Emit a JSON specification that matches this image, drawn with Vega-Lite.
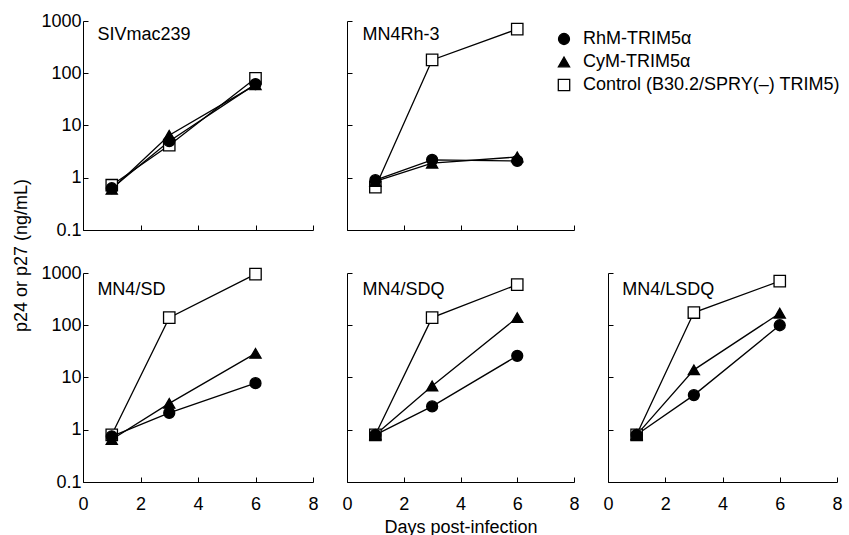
{
  "$schema": "https://vega.github.io/schema/vega-lite/v6.json",
  "padding": {"left": 11, "top": 12, "right": 5, "bottom": 2},
  "background": "white",
  "datasets": {
    "d": [
      {"panel": "SIVmac239", "series": "Control (B30.2/SPRY(–) TRIM5)", "day": 1, "value": 0.72},
      {"panel": "SIVmac239", "series": "Control (B30.2/SPRY(–) TRIM5)", "day": 3, "value": 4.2},
      {"panel": "SIVmac239", "series": "Control (B30.2/SPRY(–) TRIM5)", "day": 6, "value": 80},
      {"panel": "SIVmac239", "series": "CyM-TRIM5α", "day": 1, "value": 0.6},
      {"panel": "SIVmac239", "series": "CyM-TRIM5α", "day": 3, "value": 6.5},
      {"panel": "SIVmac239", "series": "CyM-TRIM5α", "day": 6, "value": 60},
      {"panel": "SIVmac239", "series": "RhM-TRIM5α", "day": 1, "value": 0.63},
      {"panel": "SIVmac239", "series": "RhM-TRIM5α", "day": 3, "value": 5.0},
      {"panel": "SIVmac239", "series": "RhM-TRIM5α", "day": 6, "value": 62},
      {"panel": "MN4Rh-3", "series": "Control (B30.2/SPRY(–) TRIM5)", "day": 1, "value": 0.66},
      {"panel": "MN4Rh-3", "series": "Control (B30.2/SPRY(–) TRIM5)", "day": 3, "value": 180},
      {"panel": "MN4Rh-3", "series": "Control (B30.2/SPRY(–) TRIM5)", "day": 6, "value": 700},
      {"panel": "MN4Rh-3", "series": "CyM-TRIM5α", "day": 1, "value": 0.85},
      {"panel": "MN4Rh-3", "series": "CyM-TRIM5α", "day": 3, "value": 1.9},
      {"panel": "MN4Rh-3", "series": "CyM-TRIM5α", "day": 6, "value": 2.5},
      {"panel": "MN4Rh-3", "series": "RhM-TRIM5α", "day": 1, "value": 0.9},
      {"panel": "MN4Rh-3", "series": "RhM-TRIM5α", "day": 3, "value": 2.2},
      {"panel": "MN4Rh-3", "series": "RhM-TRIM5α", "day": 6, "value": 2.1},
      {"panel": "MN4/SD", "series": "Control (B30.2/SPRY(–) TRIM5)", "day": 1, "value": 0.8},
      {"panel": "MN4/SD", "series": "Control (B30.2/SPRY(–) TRIM5)", "day": 3, "value": 140},
      {"panel": "MN4/SD", "series": "Control (B30.2/SPRY(–) TRIM5)", "day": 6, "value": 950},
      {"panel": "MN4/SD", "series": "CyM-TRIM5α", "day": 1, "value": 0.65},
      {"panel": "MN4/SD", "series": "CyM-TRIM5α", "day": 3, "value": 3.2},
      {"panel": "MN4/SD", "series": "CyM-TRIM5α", "day": 6, "value": 29},
      {"panel": "MN4/SD", "series": "RhM-TRIM5α", "day": 1, "value": 0.75},
      {"panel": "MN4/SD", "series": "RhM-TRIM5α", "day": 3, "value": 2.1},
      {"panel": "MN4/SD", "series": "RhM-TRIM5α", "day": 6, "value": 7.8},
      {"panel": "MN4/SDQ", "series": "Control (B30.2/SPRY(–) TRIM5)", "day": 1, "value": 0.8},
      {"panel": "MN4/SDQ", "series": "Control (B30.2/SPRY(–) TRIM5)", "day": 3, "value": 140},
      {"panel": "MN4/SDQ", "series": "Control (B30.2/SPRY(–) TRIM5)", "day": 6, "value": 600},
      {"panel": "MN4/SDQ", "series": "CyM-TRIM5α", "day": 1, "value": 0.8},
      {"panel": "MN4/SDQ", "series": "CyM-TRIM5α", "day": 3, "value": 6.9},
      {"panel": "MN4/SDQ", "series": "CyM-TRIM5α", "day": 6, "value": 140},
      {"panel": "MN4/SDQ", "series": "RhM-TRIM5α", "day": 1, "value": 0.8},
      {"panel": "MN4/SDQ", "series": "RhM-TRIM5α", "day": 3, "value": 2.8},
      {"panel": "MN4/SDQ", "series": "RhM-TRIM5α", "day": 6, "value": 26},
      {"panel": "MN4/LSDQ", "series": "Control (B30.2/SPRY(–) TRIM5)", "day": 1, "value": 0.8},
      {"panel": "MN4/LSDQ", "series": "Control (B30.2/SPRY(–) TRIM5)", "day": 3, "value": 175},
      {"panel": "MN4/LSDQ", "series": "Control (B30.2/SPRY(–) TRIM5)", "day": 6, "value": 700},
      {"panel": "MN4/LSDQ", "series": "CyM-TRIM5α", "day": 1, "value": 0.8},
      {"panel": "MN4/LSDQ", "series": "CyM-TRIM5α", "day": 3, "value": 14},
      {"panel": "MN4/LSDQ", "series": "CyM-TRIM5α", "day": 6, "value": 170},
      {"panel": "MN4/LSDQ", "series": "RhM-TRIM5α", "day": 1, "value": 0.8},
      {"panel": "MN4/LSDQ", "series": "RhM-TRIM5α", "day": 3, "value": 4.6},
      {"panel": "MN4/LSDQ", "series": "RhM-TRIM5α", "day": 6, "value": 100}
    ]
  },
  "config": {
    "view": {"stroke": null},
    "font": "Liberation Sans",
    "axis": {"grid": false, "domainColor": "black", "tickColor": "black", "labelColor": "black", "titleColor": "black", "labelFontSize": 18, "titleFontSize": 18, "titleFontWeight": "normal", "labelFont": "Liberation Sans", "titleFont": "Liberation Sans", "tickSize": -5, "domainWidth": 1, "labelFlush": false},
    "legend": {"labelLimit": 400}
  },
  "resolve": {"scale": {"shape": "shared", "fill": "shared", "size": "shared"}},
  "bounds": "flush",
  "columns": 3,
  "spacing": {"row": 43, "column": 34},
  "concat": [
    {
      "width": 230, "height": 209,
      "layer": [
        {"data": {"name": "d"}, "transform": [{"filter": "datum.panel === 'SIVmac239'"}],
         "mark": {"type": "line", "color": "black", "strokeWidth": 1.3},
         "encoding": {
           "x": {"field": "day", "type": "quantitative", "scale": {"domain": [0, 8], "nice": false}, "axis": {"values": [0, 2, 4, 6, 8], "labels": false, "title": null}},
           "y": {"field": "value", "type": "quantitative", "scale": {"type": "log", "domain": [0.1, 1000], "nice": false}, "axis": {"values": [0.1, 1, 10, 100, 1000], "format": "~g", "title": null, "labelPadding": 7}},
           "detail": {"field": "series"}}},
        {"data": {"name": "d"}, "transform": [{"filter": "datum.panel === 'SIVmac239'"}],
         "mark": {"type": "point", "filled": true, "stroke": "black", "strokeWidth": 1.3, "opacity": 1},
         "encoding": {
           "x": {"field": "day", "type": "quantitative"},
           "y": {"field": "value", "type": "quantitative"},
           "shape": {"field": "series", "type": "nominal", "scale": {"domain": ["RhM-TRIM5α", "CyM-TRIM5α", "Control (B30.2/SPRY(–) TRIM5)"], "range": ["circle", "triangle-up", "square"]},
             "legend": {"title": null, "orient": "none", "legendX": 472, "legendY": 9, "labelFontSize": 18, "labelFont": "Liberation Sans", "labelColor": "black", "rowPadding": 5, "symbolStrokeColor": "black", "symbolStrokeWidth": 1.3, "labelOffset": 10, "labelLimit": 400}},
           "fill": {"field": "series", "type": "nominal", "scale": {"domain": ["RhM-TRIM5α", "CyM-TRIM5α", "Control (B30.2/SPRY(–) TRIM5)"], "range": ["black", "black", "white"]}},
           "size": {"field": "series", "type": "nominal", "scale": {"domain": ["RhM-TRIM5α", "CyM-TRIM5α", "Control (B30.2/SPRY(–) TRIM5)"], "range": [120, 130, 85]}}}},
        {"data": {"values": [{"label": "SIVmac239"}]},
         "mark": {"type": "text", "align": "left", "baseline": "alphabetic", "fontSize": 18, "font": "Liberation Sans", "color": "black"},
         "encoding": {"x": {"datum": 0.5, "type": "quantitative"}, "y": {"datum": 430, "type": "quantitative"}, "text": {"field": "label"}}}
      ]
    },
    {
      "width": 227, "height": 209,
      "layer": [
        {"data": {"name": "d"}, "transform": [{"filter": "datum.panel === 'MN4Rh-3'"}],
         "mark": {"type": "line", "color": "black", "strokeWidth": 1.3},
         "encoding": {
           "x": {"field": "day", "type": "quantitative", "scale": {"domain": [0, 8], "nice": false}, "axis": {"values": [0, 2, 4, 6, 8], "labels": false, "title": null}},
           "y": {"field": "value", "type": "quantitative", "scale": {"type": "log", "domain": [0.1, 1000], "nice": false}, "axis": {"values": [0.1, 1, 10, 100, 1000], "labels": false, "title": null}},
           "detail": {"field": "series"}}},
        {"data": {"name": "d"}, "transform": [{"filter": "datum.panel === 'MN4Rh-3'"}],
         "mark": {"type": "point", "filled": true, "stroke": "black", "strokeWidth": 1.3, "opacity": 1},
         "encoding": {
           "x": {"field": "day", "type": "quantitative"},
           "y": {"field": "value", "type": "quantitative"},
           "shape": {"field": "series", "type": "nominal", "scale": {"domain": ["RhM-TRIM5α", "CyM-TRIM5α", "Control (B30.2/SPRY(–) TRIM5)"], "range": ["circle", "triangle-up", "square"]},
             "legend": {"title": null, "orient": "none", "legendX": 472, "legendY": 9, "labelFontSize": 18, "labelFont": "Liberation Sans", "labelColor": "black", "rowPadding": 5, "symbolStrokeColor": "black", "symbolStrokeWidth": 1.3, "labelOffset": 10, "labelLimit": 400}},
           "fill": {"field": "series", "type": "nominal", "scale": {"domain": ["RhM-TRIM5α", "CyM-TRIM5α", "Control (B30.2/SPRY(–) TRIM5)"], "range": ["black", "black", "white"]}},
           "size": {"field": "series", "type": "nominal", "scale": {"domain": ["RhM-TRIM5α", "CyM-TRIM5α", "Control (B30.2/SPRY(–) TRIM5)"], "range": [120, 130, 85]}}}},
        {"data": {"values": [{"label": "MN4Rh-3"}]},
         "mark": {"type": "text", "align": "left", "baseline": "alphabetic", "fontSize": 18, "font": "Liberation Sans", "color": "black"},
         "encoding": {"x": {"datum": 0.55, "type": "quantitative"}, "y": {"datum": 430, "type": "quantitative"}, "text": {"field": "label"}}}
      ]
    },
    {
      "width": 229, "height": 209,
      "data": {"values": [{"label": ""}]},
      "mark": {"type": "text"},
      "encoding": {"text": {"field": "label"}}
    },
    {
      "width": 230, "height": 209,
      "layer": [
        {"data": {"name": "d"}, "transform": [{"filter": "datum.panel === 'MN4/SD'"}],
         "mark": {"type": "line", "color": "black", "strokeWidth": 1.3},
         "encoding": {
           "x": {"field": "day", "type": "quantitative", "scale": {"domain": [0, 8], "nice": false}, "axis": {"values": [0, 2, 4, 6, 8], "title": null, "labelPadding": 18}},
           "y": {"field": "value", "type": "quantitative", "scale": {"type": "log", "domain": [0.1, 1000], "nice": false}, "axis": {"values": [0.1, 1, 10, 100, 1000], "format": "~g", "labelPadding": 7, "title": "p24 or p27  (ng/mL)", "titleX": -62, "titleY": -18, "titleAlign": "center", "titleBaseline": "middle", "titleAngle": 270}},
           "detail": {"field": "series"}}},
        {"data": {"name": "d"}, "transform": [{"filter": "datum.panel === 'MN4/SD'"}],
         "mark": {"type": "point", "filled": true, "stroke": "black", "strokeWidth": 1.3, "opacity": 1},
         "encoding": {
           "x": {"field": "day", "type": "quantitative"},
           "y": {"field": "value", "type": "quantitative"},
           "shape": {"field": "series", "type": "nominal", "scale": {"domain": ["RhM-TRIM5α", "CyM-TRIM5α", "Control (B30.2/SPRY(–) TRIM5)"], "range": ["circle", "triangle-up", "square"]},
             "legend": {"title": null, "orient": "none", "legendX": 472, "legendY": 9, "labelFontSize": 18, "labelFont": "Liberation Sans", "labelColor": "black", "rowPadding": 5, "symbolStrokeColor": "black", "symbolStrokeWidth": 1.3, "labelOffset": 10, "labelLimit": 400}},
           "fill": {"field": "series", "type": "nominal", "scale": {"domain": ["RhM-TRIM5α", "CyM-TRIM5α", "Control (B30.2/SPRY(–) TRIM5)"], "range": ["black", "black", "white"]}},
           "size": {"field": "series", "type": "nominal", "scale": {"domain": ["RhM-TRIM5α", "CyM-TRIM5α", "Control (B30.2/SPRY(–) TRIM5)"], "range": [120, 130, 85]}}}},
        {"data": {"values": [{"label": "MN4/SD"}]},
         "mark": {"type": "text", "align": "left", "baseline": "alphabetic", "fontSize": 18, "font": "Liberation Sans", "color": "black"},
         "encoding": {"x": {"datum": 0.5, "type": "quantitative"}, "y": {"datum": 380, "type": "quantitative"}, "text": {"field": "label"}}}
      ]
    },
    {
      "width": 227, "height": 209,
      "layer": [
        {"data": {"name": "d"}, "transform": [{"filter": "datum.panel === 'MN4/SDQ'"}],
         "mark": {"type": "line", "color": "black", "strokeWidth": 1.3},
         "encoding": {
           "x": {"field": "day", "type": "quantitative", "scale": {"domain": [0, 8], "nice": false}, "axis": {"values": [0, 2, 4, 6, 8], "title": "Days post-infection", "labelPadding": 18, "titlePadding": 5}},
           "y": {"field": "value", "type": "quantitative", "scale": {"type": "log", "domain": [0.1, 1000], "nice": false}, "axis": {"values": [0.1, 1, 10, 100, 1000], "labels": false, "title": null}},
           "detail": {"field": "series"}}},
        {"data": {"name": "d"}, "transform": [{"filter": "datum.panel === 'MN4/SDQ'"}],
         "mark": {"type": "point", "filled": true, "stroke": "black", "strokeWidth": 1.3, "opacity": 1},
         "encoding": {
           "x": {"field": "day", "type": "quantitative"},
           "y": {"field": "value", "type": "quantitative"},
           "shape": {"field": "series", "type": "nominal", "scale": {"domain": ["RhM-TRIM5α", "CyM-TRIM5α", "Control (B30.2/SPRY(–) TRIM5)"], "range": ["circle", "triangle-up", "square"]},
             "legend": {"title": null, "orient": "none", "legendX": 472, "legendY": 9, "labelFontSize": 18, "labelFont": "Liberation Sans", "labelColor": "black", "rowPadding": 5, "symbolStrokeColor": "black", "symbolStrokeWidth": 1.3, "labelOffset": 10, "labelLimit": 400}},
           "fill": {"field": "series", "type": "nominal", "scale": {"domain": ["RhM-TRIM5α", "CyM-TRIM5α", "Control (B30.2/SPRY(–) TRIM5)"], "range": ["black", "black", "white"]}},
           "size": {"field": "series", "type": "nominal", "scale": {"domain": ["RhM-TRIM5α", "CyM-TRIM5α", "Control (B30.2/SPRY(–) TRIM5)"], "range": [120, 130, 85]}}}},
        {"data": {"values": [{"label": "MN4/SDQ"}]},
         "mark": {"type": "text", "align": "left", "baseline": "alphabetic", "fontSize": 18, "font": "Liberation Sans", "color": "black"},
         "encoding": {"x": {"datum": 0.55, "type": "quantitative"}, "y": {"datum": 380, "type": "quantitative"}, "text": {"field": "label"}}}
      ]
    },
    {
      "width": 229, "height": 209,
      "layer": [
        {"data": {"name": "d"}, "transform": [{"filter": "datum.panel === 'MN4/LSDQ'"}],
         "mark": {"type": "line", "color": "black", "strokeWidth": 1.3},
         "encoding": {
           "x": {"field": "day", "type": "quantitative", "scale": {"domain": [0, 8], "nice": false}, "axis": {"values": [0, 2, 4, 6, 8], "title": null, "labelPadding": 18}},
           "y": {"field": "value", "type": "quantitative", "scale": {"type": "log", "domain": [0.1, 1000], "nice": false}, "axis": {"values": [0.1, 1, 10, 100, 1000], "labels": false, "title": null}},
           "detail": {"field": "series"}}},
        {"data": {"name": "d"}, "transform": [{"filter": "datum.panel === 'MN4/LSDQ'"}],
         "mark": {"type": "point", "filled": true, "stroke": "black", "strokeWidth": 1.3, "opacity": 1},
         "encoding": {
           "x": {"field": "day", "type": "quantitative"},
           "y": {"field": "value", "type": "quantitative"},
           "shape": {"field": "series", "type": "nominal", "scale": {"domain": ["RhM-TRIM5α", "CyM-TRIM5α", "Control (B30.2/SPRY(–) TRIM5)"], "range": ["circle", "triangle-up", "square"]},
             "legend": {"title": null, "orient": "none", "legendX": 472, "legendY": 9, "labelFontSize": 18, "labelFont": "Liberation Sans", "labelColor": "black", "rowPadding": 5, "symbolStrokeColor": "black", "symbolStrokeWidth": 1.3, "labelOffset": 10, "labelLimit": 400}},
           "fill": {"field": "series", "type": "nominal", "scale": {"domain": ["RhM-TRIM5α", "CyM-TRIM5α", "Control (B30.2/SPRY(–) TRIM5)"], "range": ["black", "black", "white"]}},
           "size": {"field": "series", "type": "nominal", "scale": {"domain": ["RhM-TRIM5α", "CyM-TRIM5α", "Control (B30.2/SPRY(–) TRIM5)"], "range": [120, 130, 85]}}}},
        {"data": {"values": [{"label": "MN4/LSDQ"}]},
         "mark": {"type": "text", "align": "left", "baseline": "alphabetic", "fontSize": 18, "font": "Liberation Sans", "color": "black"},
         "encoding": {"x": {"datum": 0.5, "type": "quantitative"}, "y": {"datum": 380, "type": "quantitative"}, "text": {"field": "label"}}}
      ]
    }
  ]
}
